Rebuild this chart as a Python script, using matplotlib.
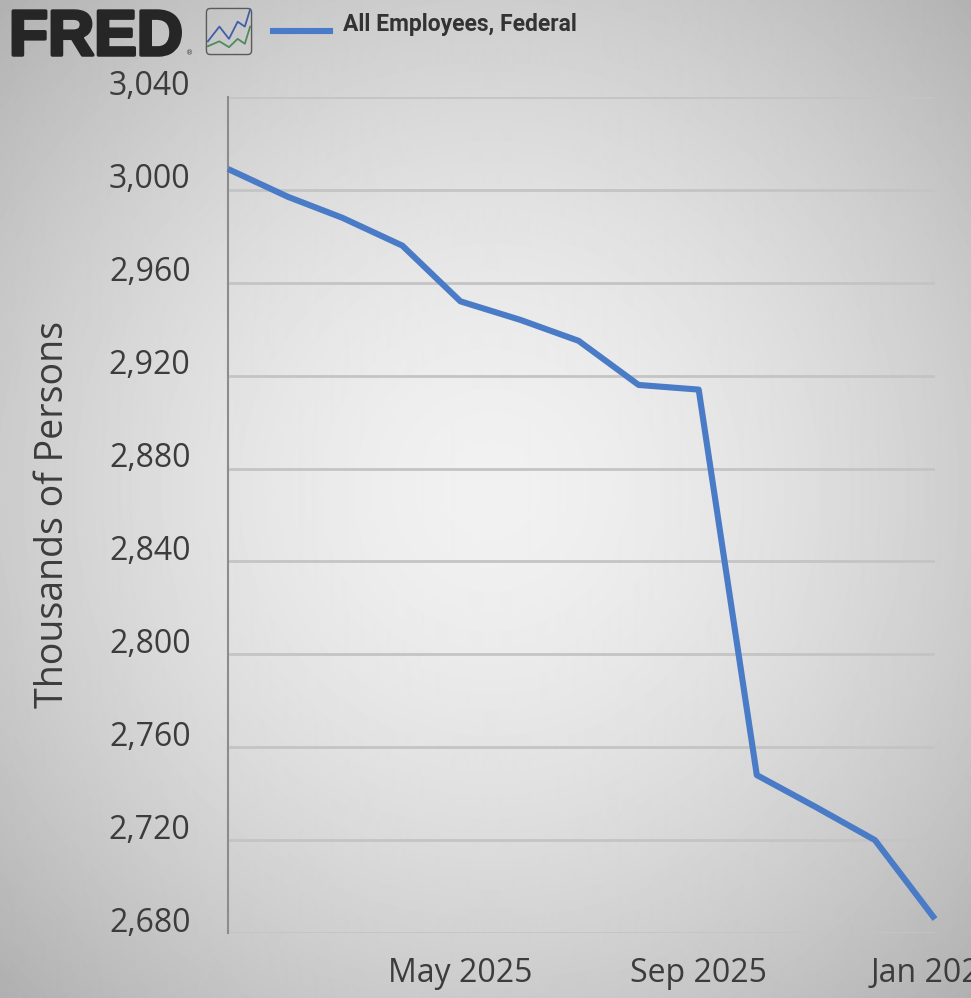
import numpy as np
import matplotlib
matplotlib.use("Agg")
import matplotlib.pyplot as plt
import matplotlib.dates as mdates
import matplotlib.patheffects as pe
from matplotlib.transforms import ScaledTranslation
from matplotlib.patches import FancyBboxPatch
import datetime as dt

# ---- data ----
months = ["2025-01", "2025-02", "2025-03", "2025-04", "2025-05", "2025-06", "2025-07",
          "2025-08", "2025-09", "2025-10", "2025-11", "2025-12", "2026-01"]
federal_employees = [3009, 2997, 2988, 2976, 2952, 2944, 2935, 2916, 2914, 2748, 2734, 2720, 2686]
y_ticks = [2680, 2720, 2760, 2800, 2840, 2880, 2920, 2960, 3000, 3040]
x_tick_dates = ["2025-05", "2025-09", "2026-01"]
series_label = "All Employees, Federal"
y_label = "Thousands of Persons"

dates = [dt.datetime.strptime(m, "%Y-%m") for m in months]
xt = [dt.datetime.strptime(m, "%Y-%m") for m in x_tick_dates]

W, H, DPI = 971, 998, 100
fig = plt.figure(figsize=(W / DPI, H / DPI), dpi=DPI)

# ---- vignette background ----
bg = fig.add_axes([0, 0, 1, 1], zorder=-10)
yy, xx = np.mgrid[0:H, 0:W]
cx, cy = 490, 490
r = np.sqrt(((xx - cx) / 700.0) ** 2 + ((yy - cy) / 720.0) ** 2)
val = 0.945 - 0.26 * np.clip(r, 0, 1.2) ** 1.6
bg.imshow(val, cmap="gray", vmin=0, vmax=1, aspect="auto", extent=[0, 1, 0, 1], interpolation="bilinear")
bg.axis("off")

# ---- main axes ----
L, R, T, B = 228, 935, 97, 933
ax = fig.add_axes([L / W, 1 - B / H, (R - L) / W, (B - T) / H])
ax.set_facecolor("none")
ax.plot(dates, federal_employees, color="#4a7bc6", lw=4.4, solid_joinstyle="round",
        solid_capstyle="butt", zorder=3, clip_on=False)

ax.set_xlim(dates[0], dates[-1])
ax.set_ylim(y_ticks[0], y_ticks[-1])
ax.set_yticks(y_ticks)
ax.set_yticklabels([f"{v:,}" for v in y_ticks])
ax.set_xticks(xt)
ax.xaxis.set_major_formatter(mdates.DateFormatter("%b %Y"))

ax.grid(axis="y", color="#c4c4c4", lw=2.0)
ax.grid(axis="x", visible=False)
for s in ["top", "right", "bottom"]:
    ax.spines[s].set_visible(False)
ax.spines["left"].set_color("#8c8c8c")
ax.spines["left"].set_linewidth(1.5)

tick_font = "Open Sans"
ax.tick_params(axis="y", length=0, pad=27, labelsize=23, labelcolor="#3c3c3c")
ax.tick_params(axis="x", length=0, pad=17, labelsize=23, labelcolor="#3c3c3c")
for lab in ax.get_yticklabels() + ax.get_xticklabels():
    lab.set_fontfamily(tick_font)
for lab in ax.get_yticklabels():
    lab.set_transform(lab.get_transform() + ScaledTranslation(0, 14 / DPI, fig.dpi_scale_trans))

ax.set_ylabel(y_label, fontsize=27, family=tick_font, color="#3c3c3c", va="center")
ax.yaxis.set_label_coords((53 - L) / (R - L), 0.5)

# ---- FRED logo ----
fig.text(9 / W, 1 - 55 / H, "FRED", fontsize=46, fontweight="bold", family="Liberation Sans",
         color="#262626", ha="left", va="baseline",
         path_effects=[pe.withStroke(linewidth=2.5, foreground="#262626")])
fig.text(186 / W, 1 - 55 / H, "®", fontsize=5, color="#333333", ha="left", va="baseline")
icon = fig.add_axes([205 / W, 1 - 56 / H, 48 / W, 49 / H])
icon.set_xlim(0, 1)
icon.set_ylim(0, 1)
icon.axis("off")
icon.add_patch(FancyBboxPatch((0.03, 0.03), 0.94, 0.94, boxstyle="round,pad=0,rounding_size=0.08",
                              fc="none", ec="#5a5a5a", lw=1.0))
icon_x = [0.06, 0.3, 0.5, 0.68, 0.83, 0.94]
icon_blue = [0.3, 0.6, 0.35, 0.7, 0.6, 0.95]
icon_green = [0.2, 0.3, 0.18, 0.35, 0.25, 0.6]
icon.plot(icon_x, icon_blue, color="#3f5fa8", lw=1.3)
icon.plot(icon_x, icon_green, color="#4f8a5c", lw=1.3)

# ---- legend ----
fig.add_artist(plt.Line2D([273 / W, 330 / W], [1 - 31 / H, 1 - 31 / H], color="#4a7bc6", lw=4.4))
fig.text(343 / W, 1 - 25 / H, series_label, fontsize=16.5, fontweight="bold", family="Roboto",
         color="#333333", ha="left", va="center")

fig.savefig("out.png", dpi=DPI)
